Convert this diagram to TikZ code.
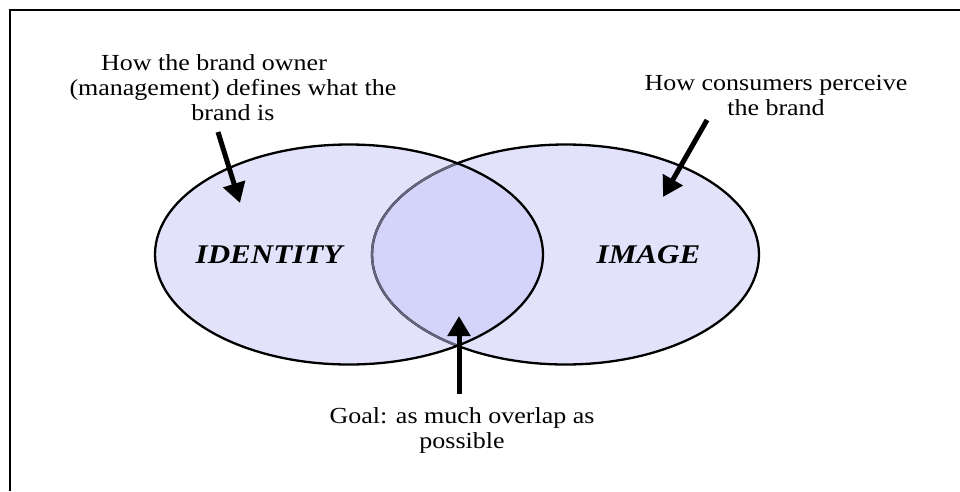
\documentclass[tikz,border=0pt]{standalone}
\usepackage{fontspec}
\setmainfont{Liberation Serif}
\newfontfamily\labelfont[FakeStretch=1.13]{Liberation Serif}
\newfontfamily\titlefont[FakeStretch=1.15]{Liberation Serif}
\usetikzlibrary{arrows.meta}
\definecolor{lav}{RGB}{226,226,250}
\definecolor{lavdark}{RGB}{212,212,250}
\definecolor{greyarc}{RGB}{100,100,125}
\begin{document}
\begin{tikzpicture}[x=1pt,y=-1pt,
  note/.style={font=\labelfont\fontsize{23}{25}\selectfont, align=center, inner sep=0pt},
  big/.style={font=\titlefont\fontsize{27}{30}\selectfont\bfseries\itshape, inner sep=0pt, anchor=base},
  pointer/.style={line width=5pt, -{Triangle[width=22pt,length=20pt]}},
  outline/.style={line width=2.3pt}]
\useasboundingbox (0,0) rectangle (960,491);
\fill[white] (0,0) rectangle (960,491);
% frame
\draw[line width=2pt] (10,491) -- (10,10) -- (960,10);
% ellipses
\coordinate (idc) at (349,254.5);
\coordinate (imc) at (565.5,254.5);
\fill[lav] (idc) ellipse [x radius=194pt, y radius=110pt];
\fill[lav] (imc) ellipse [x radius=193.5pt, y radius=110pt];
\begin{scope}
  \clip (idc) ellipse [x radius=194pt, y radius=110pt];
  \fill[lavdark] (imc) ellipse [x radius=193.5pt, y radius=110pt];
\end{scope}
\draw[outline] (imc) ellipse [x radius=193.5pt, y radius=110pt];
\begin{scope}
  \clip (idc) ellipse [x radius=192.5pt, y radius=108.5pt];
  \draw[outline, greyarc] (imc) ellipse [x radius=193.5pt, y radius=110pt];
\end{scope}
\draw[outline] (idc) ellipse [x radius=194pt, y radius=110pt];
% labels
\node[big] (identity) at (269,263) {IDENTITY};
\node[big] (image) at (648.5,263) {IMAGE};
\node[note, anchor=north] (owner) at (233,54) {How the brand owner\hspace*{38pt}\\(management) defines what the\\brand is};
\node[note, anchor=north] (consumers) at (776,75) {How consumers perceive\\the brand};
\node[note, anchor=north] (goal) at (462,407) {Goal: as much overlap as\\possible};
% arrows
\coordinate (a1s) at (218,132);
\coordinate (a1e) at (240,203);
\coordinate (a2s) at (707,120);
\coordinate (a2e) at (663,197);
\coordinate (a3s) at (459,394);
\coordinate (a3e) at (459,316);
\draw[pointer] (a1s) -- (a1e);
\draw[pointer] (a2s) -- (a2e);
\draw[pointer] (a3s) -- (a3e);
\end{tikzpicture}
\end{document}
